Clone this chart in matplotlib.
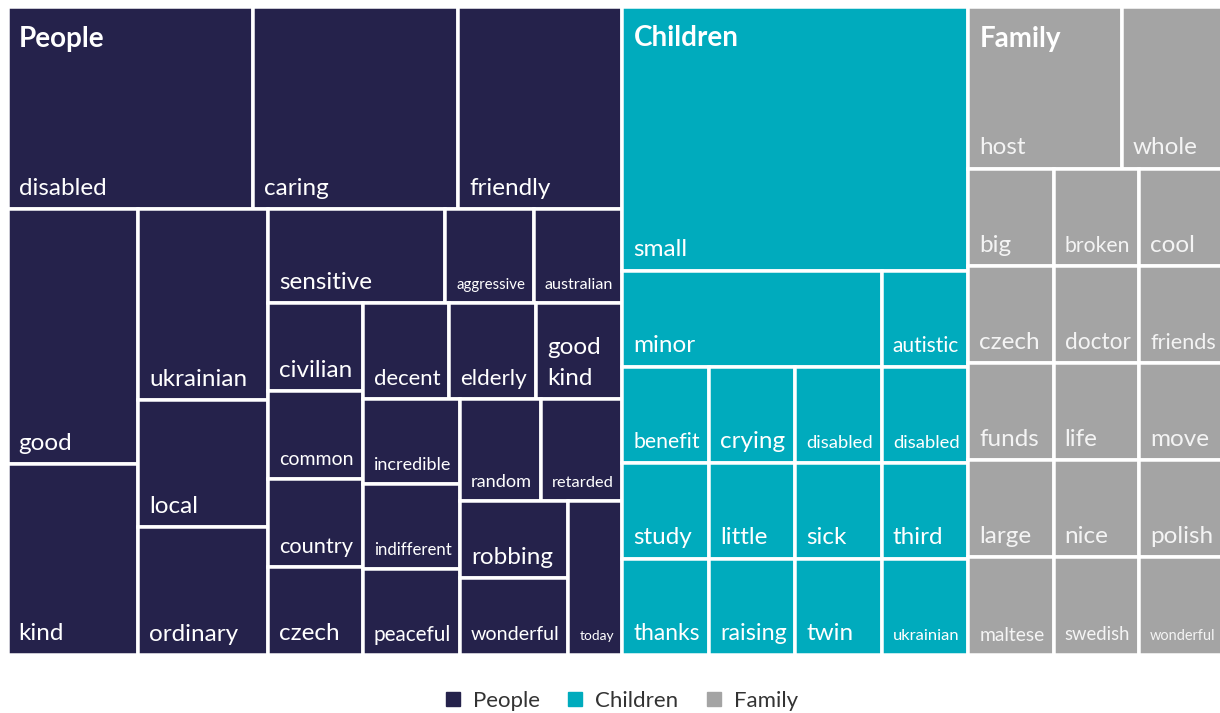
import matplotlib.pyplot as plt
from matplotlib.patches import Rectangle
from matplotlib.lines import Line2D

plt.rcParams['font.family'] = ['Lato', 'DejaVu Sans']

# data: word counts per group, in layout order (largest first)
groups = ['People', 'Children', 'Family']
group_colors = ['#25224b', '#00abbd', '#a4a4a4']
label_colors = ['#ffffff', '#ffffff', '#f4f4f4']

people_words = ['disabled', 'caring', 'friendly', 'good', 'kind', 'ukrainian',
                'local', 'ordinary', 'sensitive', 'aggressive', 'australian',
                'civilian', 'common', 'country', 'czech', 'decent', 'elderly',
                'good kind', 'incredible', 'indifferent', 'peaceful', 'random',
                'retarded', 'robbing', 'wonderful', 'today']
people_counts = [6, 5, 4, 4, 3, 3, 2, 2, 2, 1, 1, 1, 1, 1, 1, 1, 1, 1, 1, 1,
                 1, 1, 1, 1, 1, 1]

children_words = ['small', 'minor', 'autistic', 'benefit', 'study', 'thanks',
                  'crying', 'disabled', 'disabled', 'little', 'raising', 'sick',
                  'third', 'twin', 'ukrainian']
children_counts = [11, 3, 1, 1, 1, 1, 1, 1, 1, 1, 1, 1, 1, 1, 1]

family_words = ['host', 'whole', 'big', 'broken', 'cool', 'czech', 'doctor',
                'friends', 'funds', 'life', 'move', 'large', 'maltese', 'nice',
                'polish', 'swedish', 'wonderful']
family_counts = [3, 2, 1, 1, 1, 1, 1, 1, 1, 1, 1, 1, 1, 1, 1, 1, 1]

group_words = [people_words, children_words, family_words]
group_counts = [people_counts, children_counts, family_counts]

# layout settings (pixels)
X0, Y0, W, H = 7.5, 6.5, 1217.0, 648.0
H_FIT = 651.0       # height used when splitting, then scaled to H
RATIO = 0.8033      # target ratio of the squarify strips
GAP = 3.5           # white border between cells
PAD = 11.0          # label inset from left edge
BASE = 14.0         # label baseline above bottom edge
MAX_FS = 17.5


def squarify(vals, x0, y0, x1, y1, ratio):
    # strip-based squarified layout (d3 style)
    out = []
    value = float(sum(vals))
    i0, n = 0, len(vals)
    while i0 < n:
        dx, dy = x1 - x0, y1 - y0
        s = vals[i0]
        i1 = i0 + 1
        vmin = vmax = s
        alpha = max(dy / dx, dx / dy) / (value * ratio)
        beta = s * s * alpha
        best = max(vmax / beta, beta / vmin)
        while i1 < n:
            v = vals[i1]
            s2 = s + v
            b = s2 * s2 * alpha
            r = max(max(vmax, v) / b, b / min(vmin, v))
            if r > best:
                break
            s, best = s2, r
            vmin, vmax = min(vmin, v), max(vmax, v)
            i1 += 1
        row = vals[i0:i1]
        if dx < dy:
            yb = y0 + dy * s / value
            xx = x0
            for v in row:
                ww = dx * v / s
                out.append((xx, y0, ww, yb - y0))
                xx += ww
            y0 = yb
        else:
            xb = x0 + dx * s / value
            yy = y0
            for v in row:
                hh = dy * v / s
                out.append((x0, yy, xb - x0, hh))
                yy += hh
            x0 = xb
        value -= s
        i0 = i1
    return out


fig = plt.figure(figsize=(12.2, 7.13), dpi=100)
ax = fig.add_axes([0, 0, 1, 1])
ax.set_xlim(0, 1220)
ax.set_ylim(713, 0)
ax.axis('off')
renderer = fig.canvas.get_renderer()


def text_width(s, fs):
    t = ax.text(0, 0, s, fontsize=fs)
    w = t.get_window_extent(renderer).width
    t.remove()
    return w


def draw_label(x, y, w, h, word, color):
    avail = w - 2 * PAD + 2
    lines = [word]
    fs = min(MAX_FS, MAX_FS * avail / text_width(word, MAX_FS))
    if ' ' in word:
        parts = word.split(' ')
        wmax = max(text_width(p, MAX_FS) for p in parts)
        fs2 = min(MAX_FS, MAX_FS * avail / wmax)
        if fs2 > fs:
            fs, lines = fs2, parts
    step = fs * 100 / 72 * 1.25
    yb = y + h - BASE
    for k, line in enumerate(reversed(lines)):
        ax.text(x + PAD, yb - k * step, line, fontsize=fs, color=color,
                ha='left', va='baseline')


totals = [sum(c) for c in group_counts]
grand = sum(totals)
gx = X0
sy = H / H_FIT
for gi, name in enumerate(groups):
    gw = W * totals[gi] / grand
    rects = squarify(group_counts[gi], gx, 0.0, gx + gw, H_FIT, RATIO)
    for (x, y, w, h), word in zip(rects, group_words[gi]):
        y, h = Y0 + y * sy, h * sy
        ax.add_patch(Rectangle((x, y), w, h, facecolor=group_colors[gi],
                               edgecolor='white', linewidth=GAP * 0.72))
        draw_label(x, y, w, h, word, label_colors[gi])
    ax.text(gx + PAD, Y0 + 40, name, fontsize=20, fontweight='bold',
            color='white', ha='left', va='baseline')
    gx += gw

handles = [Line2D([], [], marker='s', ls='', ms=10, color=c) for c in group_colors]
fig.legend(handles, groups, loc='center', bbox_to_anchor=(0.508, 1 - 701 / 713),
           ncol=3, frameon=False, fontsize=16, labelcolor='#333333',
           handletextpad=0.4, columnspacing=1.1, handlelength=1.0)

fig.savefig('out.png', dpi=100)
